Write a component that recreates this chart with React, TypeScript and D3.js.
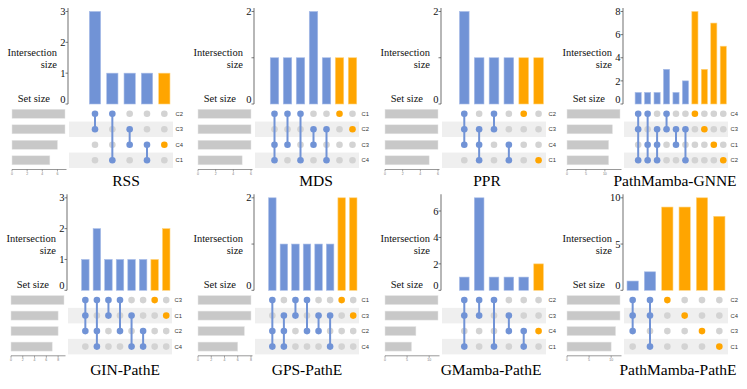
import React from "react";
import * as d3 from "d3";

// one entry per panel, left-to-right, top-to-bottom
const titles = ["RSS", "MDS", "PPR", "PathMamba-GNNE", "GIN-PathE", "GPS-PathE", "GMamba-PathE", "PathMamba-PathE"];

const setOrders = [
  ["C2", "C3", "C4", "C1"],
  ["C1", "C2", "C3", "C4"],
  ["C2", "C3", "C4", "C1"],
  ["C4", "C3", "C1", "C2"],
  ["C3", "C1", "C2", "C4"],
  ["C1", "C3", "C2", "C4"],
  ["C2", "C3", "C4", "C1"],
  ["C2", "C4", "C3", "C1"],
];

const setSizes = [
  [7, 7, 6, 5],
  [6, 6, 6, 5],
  [6, 6, 6, 5],
  [14, 12, 11, 11],
  [9, 8, 8, 7],
  [8, 8, 7, 6],
  [12, 12, 7, 6],
  [12, 12, 11, 10],
];

const intersections = [
  [["C2", "C3"], ["C2", "C1"], ["C3", "C4"], ["C4", "C1"], ["C4"]],
  [["C1", "C3", "C4"], ["C1", "C3"], ["C1", "C4"], ["C2", "C3"], ["C2", "C4"], ["C1"], ["C2"]],
  [["C2", "C3", "C4"], ["C3", "C4", "C1"], ["C2", "C3"], ["C4", "C1"], ["C2"], ["C1"]],
  [["C4", "C3", "C2"], ["C4", "C1", "C2"], ["C3", "C1", "C2"], ["C4", "C3"], ["C3", "C1"], ["C3", "C2"], ["C4"], ["C3"], ["C1"], ["C2"]],
  [["C3", "C1", "C2"], ["C3", "C2", "C4"], ["C3", "C1"], ["C3", "C2"], ["C1", "C4"], ["C2", "C4"], ["C3"], ["C1"]],
  [["C1", "C2", "C4"], ["C3", "C2", "C4"], ["C1", "C3"], ["C1", "C2"], ["C3", "C2"], ["C3", "C4"], ["C1"], ["C3"]],
  [["C2", "C3", "C1"], ["C2", "C3"], ["C2", "C1"], ["C3", "C4"], ["C4", "C1"], ["C4"]],
  [["C2", "C4", "C3"], ["C2", "C4", "C1"], ["C2"], ["C4"], ["C3"], ["C1"]],
];

const counts = [
  [3, 1, 1, 1, 1],
  [1, 1, 1, 2, 1, 1, 1],
  [2, 1, 1, 1, 1, 1],
  [1, 1, 1, 3, 1, 2, 8, 3, 7, 5],
  [1, 2, 1, 1, 1, 1, 1, 2],
  [2, 1, 1, 1, 1, 1, 2, 2],
  [1, 7, 1, 1, 1, 2],
  [1, 2, 9, 9, 10, 8],
];

const yMax = [3, 2, 2, 8, 3, 2, 7, 10];
const yTicks = [
  [0, 1, 2, 3],
  [0, 1, 2],
  [0, 1, 2],
  [0, 2, 4, 6, 8],
  [0, 1, 2, 3],
  [0, 1, 2],
  [0, 2, 4, 6],
  [0, 5, 10],
];
const yTickLabels = [
  ["0", "1", "2", "3"],
  ["0", "", "2"],
  ["0", "", "2"],
  ["0", "2", "4", "6", "8"],
  ["0", "1", "2", "3"],
  ["0", "", "2"],
  ["0", "2", "4", "6"],
  ["0", "5", "10"],
];
const setTicks = [
  [0, 2, 4, 6],
  [0, 2, 4, 6],
  [0, 2, 4, 6],
  [0, 5, 10],
  [0, 2, 4, 6, 8],
  [0, 2, 4, 6, 8],
  [0, 5, 10],
  [0, 5, 10],
];

// panel placement
const panelX = [0, 186, 373, 555, -1, 186, 373, 555];
const panelY = [0, 0, 0, 0, 186.3, 186.3, 186.3, 186.3];
const titleX = [126, 130, 114, 120, 126, 121, 118, 123];
const titleY = [186, 186, 186, 186, 189, 189, 189, 189];
const leadSlots = [1, 1, 1, 1, 1, 1, 1, 0];

const AXIS_X = 68;
const MATRIX_R = 173;
const Y_TOP = 11.5;
const BASE = 104;
const ROW0 = 113.8;
const ROW_STEP = 15.5;
const SET_L = 12;
const SET_R = 65;
const SET_AXIS_Y = 169.5;

const BLUE = "#7193d6";
const ORANGE = "#ffa500";
const serif = "'Liberation Serif', 'Times New Roman', serif";
const sans = "'Liberation Sans', Arial, sans-serif";

function Panel({ i }: { i: number }) {
  const sets = setOrders[i];
  const inter = intersections[i];
  const n = inter.length;
  const lead = leadSlots[i];

  const x = d3
    .scaleBand<string>()
    .domain(d3.range(-lead, n).map(String))
    .range([AXIS_X + 1, MATRIX_R])
    .paddingInner(0.35)
    .paddingOuter(0.175);
  const bw = x.bandwidth();
  const cx = (k: number) => (x(String(k)) as number) + bw / 2;

  const y = d3.scaleLinear().domain([0, yMax[i]]).range([BASE, Y_TOP]);
  const row = d3
    .scalePoint<string>()
    .domain(sets)
    .range([ROW0, ROW0 + ROW_STEP * (sets.length - 1)]);
  const sx = d3
    .scaleLinear()
    .domain([0, d3.max(setSizes[i]) as number])
    .range([SET_L, SET_R]);

  return (
    <g transform={`translate(${panelX[i]},${panelY[i]})`}>
      {/* matrix stripes */}
      {sets.map((s, r) =>
        r % 2 === 1 ? (
          <rect
            key={"st" + s}
            x={AXIS_X + 1}
            y={(row(s) as number) - ROW_STEP / 2}
            width={MATRIX_R - AXIS_X - 1}
            height={ROW_STEP}
            fill="#efefef"
          />
        ) : null
      )}

      {/* intersection bars */}
      {counts[i].map((c, k) => (
        <rect
          key={"b" + k}
          x={x(String(k))}
          y={y(c)}
          width={bw}
          height={BASE - y(c)}
          fill={inter[k].length === 1 ? ORANGE : BLUE}
          stroke={inter[k].length === 1 ? "#ffd27a" : "#a9bde8"}
          strokeWidth={0.6}
        />
      ))}

      {/* y axis */}
      <line x1={AXIS_X} x2={AXIS_X} y1={8} y2={BASE} stroke="#a5a5a5" strokeWidth={1.6} />
      {yTicks[i].map((t, k) => (
        <g key={"yt" + t}>
          <line x1={AXIS_X - 2.5} x2={AXIS_X} y1={y(t)} y2={y(t)} stroke="#555" strokeWidth={0.8} />
          <text
            x={AXIS_X - 2.5}
            y={y(t) - (t === 0 ? 5 : 0)}
            dy="0.35em"
            textAnchor="end"
            fontFamily={serif}
            fontSize={10.5}
            fill="#111"
          >
            {yTickLabels[i][k]}
          </text>
        </g>
      ))}
      <text x={57} y={56} textAnchor="end" fontFamily={serif} fontSize={10.5} fill="#111">
        Intersection
      </text>
      <text x={57} y={67.5} textAnchor="end" fontFamily={serif} fontSize={10.5} fill="#111">
        size
      </text>
      <text x={50} y={101.5} textAnchor="end" fontFamily={serif} fontSize={10.5} fill="#111">
        Set size
      </text>

      {/* dots and connectors */}
      {inter.map((members, k) => {
        const ys = members.map((m) => row(m) as number);
        const single = members.length === 1;
        return (
          <g key={"m" + k}>
            {sets.map((s) => (
              <circle
                key={s}
                cx={cx(k)}
                cy={row(s)}
                r={3.3}
                fill={members.includes(s) ? (single ? ORANGE : BLUE) : "#d3d3d3"}
              />
            ))}
            {!single && (
              <line
                x1={cx(k)}
                x2={cx(k)}
                y1={d3.min(ys)}
                y2={d3.max(ys)}
                stroke={BLUE}
                strokeWidth={2}
              />
            )}
          </g>
        );
      })}

      {/* row labels */}
      {sets.map((s) => (
        <text
          key={"rl" + s}
          x={MATRIX_R + 2.5}
          y={row(s)}
          dy="0.35em"
          fontFamily={sans}
          fontSize={5.8}
          fill="#333"
        >
          {s}
        </text>
      ))}

      {/* set size bars */}
      {sets.map((s, r) => (
        <rect
          key={"sb" + s}
          x={SET_L}
          y={(row(s) as number) - 4.5}
          width={sx(setSizes[i][r]) - SET_L}
          height={9}
          fill="#c8c8c8"
          stroke="#e6e6e6"
          strokeWidth={0.5}
        />
      ))}
      <line x1={SET_L} x2={SET_R + 1.5} y1={SET_AXIS_Y} y2={SET_AXIS_Y} stroke="#999" strokeWidth={1} />
      {setTicks[i].map((t) => (
        <g key={"stk" + t}>
          <line x1={sx(t)} x2={sx(t)} y1={SET_AXIS_Y} y2={SET_AXIS_Y + 2} stroke="#666" strokeWidth={0.6} />
          <text
            x={sx(t)}
            y={SET_AXIS_Y + 5.5}
            textAnchor="middle"
            fontFamily={sans}
            fontSize={3.5}
            fill="#777"
          >
            {t}
          </text>
        </g>
      ))}

      {/* title */}
      <text x={titleX[i]} y={titleY[i]} textAnchor="middle" fontFamily={serif} fontSize={15.5} fill="#000">
        {titles[i]}
      </text>
    </g>
  );
}

export default function App() {
  return (
    <svg
      width={747}
      height={389}
      style={{ position: "absolute", left: 0, top: 0, background: "#fff" }}
    >
      {titles.map((t, i) => (
        <Panel key={t} i={i} />
      ))}
    </svg>
  );
}
